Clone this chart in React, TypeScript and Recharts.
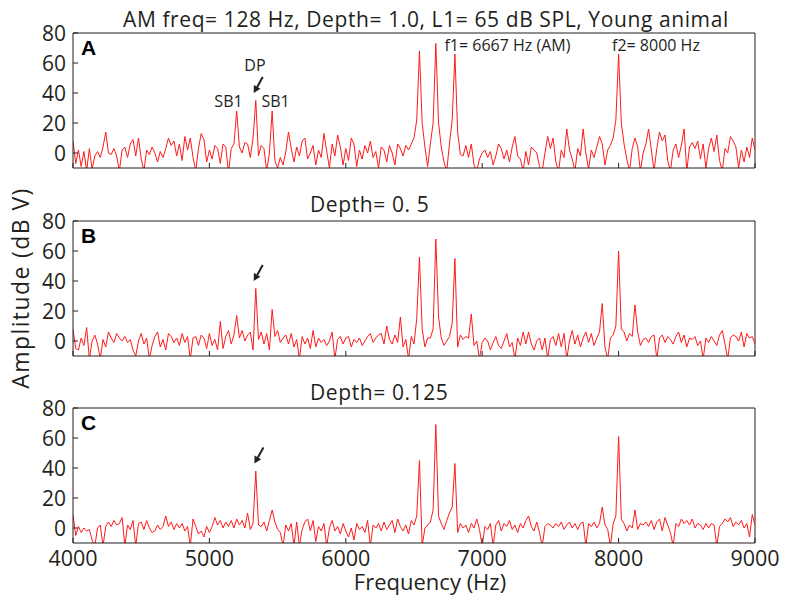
import { Line, LineChart, ReferenceDot, ReferenceLine, XAxis, YAxis } from 'recharts'
import type { ReactNode } from 'react'

// spectrum sampled every 20 Hz from 4000 to 9000 Hz (251 points per panel)
const FREQ_START = 4000
const FREQ_STEP = 20
const X_TICKS = [4000, 5000, 6000, 7000, 8000, 9000]
const Y_TICKS = [0, 20, 40, 60, 80]

// A: depth 1.0
const AMP_A = [
  8, -7, 2, -9, 1, -12, 3, -11, -2, 1, -3, 4, 14, 0, -1, 3, -2, -12, 2, 4, -3, 6, 9, -2, 10,
  -4, -12, 2, -1, 4, 0, -6, 1, -3, 3, 10, 5, 8, -2, 6, -5, 11, 2, 10, -3, -12, 3, 13, 9, -6,
  2, -4, 5, 3, -7, 6, 4, -13, 3, 6, 28, 4, 0, 7, 6, -3, 10, 35, -2, 5, 3, -12, 0, 28, -5,
  -10, -3, -8, 1, 14, 3, -6, 4, -2, 8, 10, -4, 0, 5, -8, 2, -3, 13, 1, -10, 6, -2, 12, 4, -8,
  3, -5, 10, 6, -9, 2, -4, 5, 0, 8, -3, 1, -10, 4, 2, -6, 5, 0, -8, 6, 3, -2, 5, 2, 6,
  10, 22, 68, 20, 4, -9, 6, 20, 73, 20, 4, -6, -12, 6, 22, 66, 14, -1, -2, 5, -3, 6, -8, -12, -4,
  0, 2, -3, 1, -8, -2, 6, 3, -4, 2, -6, 4, 11, -2, -4, -12, 1, -8, 4, 2, 0, -9, -12, 0, 11,
  3, 10, -6, -12, 2, -3, 16, 2, -4, -12, 3, -2, 16, 0, -11, 2, -3, 4, 11, 6, -8, 2, 5, 10, 22,
  66, 20, 6, -4, -12, 3, 10, 4, -12, 0, 6, 16, 2, -12, 3, 14, 8, 12, -5, -12, 2, 6, -3, 5, 16,
  -12, 4, 7, 3, 8, -4, 6, -10, 3, 10, 1, 12, -5, -12, 3, 0, 11, 8, 4, -10, 2, -6, 4, -3, 10,
  2,
]

// B: depth 0.5
const AMP_B = [
  8, -5, -6, 2, -3, 9, -12, 0, 4, -2, -12, 1, -4, 6, 2, -1, 5, 2, 0, 3, -1, 1, -6, -10, 0,
  5, -2, 2, -12, -3, 3, 6, -4, 1, -6, 5, 3, -1, 2, -3, 5, -1, 3, -12, 2, 3, -3, 4, 2, -5,
  5, -3, 1, -6, 13, -5, 3, 7, -2, 4, 17, 2, 7, 0, 4, 6, -6, 35, 1, 6, -2, 5, -6, 21, 3,
  7, -1, 2, 4, -2, 5, -4, 1, -12, 3, -2, 2, -5, 7, -4, 2, -1, 1, -3, 0, 6, -12, 1, 3, -2,
  2, 3, -4, 1, -1, 2, -3, 0, 3, 5, -1, 2, 4, 5, -2, 10, 1, -2, 4, -1, 16, -4, 1, -12, 3,
  -2, 15, 56, 8, -4, 2, 2, 8, 68, 16, 2, -3, 0, 3, 12, 55, -4, 4, 1, 3, 2, 18, -3, 0, -12,
  -1, 2, 0, -6, -1, 3, -3, -5, 0, 5, -4, -1, -12, 2, -3, 6, -2, 6, -2, -6, 0, 2, -6, 2, -12,
  1, 3, -3, 5, -4, 5, -12, 0, 7, -2, 4, -4, 2, 6, -1, 5, -3, 2, 6, 25, -4, -12, 2, 4, 10,
  60, 8, 6, 0, 5, 3, 24, 6, -3, 1, 2, -1, 3, 4, -12, 2, 4, -1, 3, 1, -2, 3, 6, -1, 4,
  -4, 2, 1, 3, -3, 0, -12, 2, -1, 3, 0, -3, 4, 7, -2, -12, 2, 4, 3, 0, 6, -4, 5, 2, 3,
  -2,
]

// C: depth 0.125
const AMP_C = [
  9, -5, 1, -3, 0, -2, -1, -8, -12, 0, 2, -12, 1, 4, 1, 5, 2, 3, 7, -12, 2, -1, 5, -12, 3,
  4, -1, 5, 0, -3, -2, 2, -1, 1, 8, 1, 4, -1, 3, 0, 3, -2, 1, -12, 6, 1, -4, -2, -6, 1,
  -3, 1, 7, 2, 5, 0, 4, 1, 5, 0, 6, 2, 5, 0, 10, -1, 3, 38, 2, 1, 4, -2, 5, 12, 4,
  -1, -3, -12, 2, -2, 3, -12, 4, -12, -1, 4, 6, -2, 5, -9, 1, -2, 3, -12, 0, 5, -2, 1, -4, 3,
  -2, -6, 0, -8, 3, -1, 1, -3, 5, -12, 2, 0, 3, -2, 4, -1, 2, 5, -3, 6, 1, -2, 2, -4, 5,
  2, 8, 45, -12, 0, 2, 4, 12, 69, 8, 3, -1, 5, 10, 14, 43, -3, 3, 0, 2, -3, 3, 0, 6, -1,
  -12, 1, -1, 3, -12, 2, 5, -2, 3, 1, 5, -1, 2, -3, 3, 0, 5, 8, 1, -2, 4, -3, -12, 1, 3,
  2, 0, 3, 1, 4, -1, 2, 4, 0, 3, -1, 3, 4, -12, 3, 1, 4, 0, 3, 14, 2, -1, -12, 3, 8,
  61, 6, 3, -2, 2, 0, 12, -1, 3, 2, 4, 1, 5, -1, 4, 6, -2, 7, 2, -3, -12, 3, 1, 6, 3,
  5, 2, 6, 0, 3, 2, -1, 3, 0, 3, 2, -12, 1, 3, 6, 4, 7, 1, 4, 2, 5, 0, 3, -6, 9,
  2,
]

const INK = '#231f20'
const RED = '#ff1a1a'
const FONT = '"Open Sans", "DejaVu Sans", sans-serif'

const toRows = (amps: number[]) => amps.map((v, i) => ({ f: FREQ_START + i * FREQ_STEP, v }))

function XTick(props: any) {
  const { x, y, payload, showLabels } = props
  return (
    <g>
      <line x1={x} x2={x} y1={y} y2={y - 5} stroke={INK} strokeWidth={1} />
      {showLabels && (
        <text x={x} y={y + 14} textAnchor="middle" dominantBaseline="central" fontSize={21.5} fill={INK} fontFamily={FONT}>
          {payload.value}
        </text>
      )}
    </g>
  )
}

function YTick(props: any) {
  const { x, y, payload } = props
  return (
    <g>
      <line x1={x} x2={x + 5} y1={y} y2={y} stroke={INK} strokeWidth={1} />
      <text x={x - 7} y={y} textAnchor="end" dominantBaseline="central" fontSize={21} fill={INK} fontFamily={FONT}>
        {payload.value}
      </text>
    </g>
  )
}

function Arrow(props: any) {
  const { cx, cy } = props
  const tx = cx + 9
  const ty = cy - 16
  const len = Math.hypot(cx - tx, cy - ty)
  const ux = (cx - tx) / len
  const uy = (cy - ty) / len
  const bx = cx - ux * 7
  const by = cy - uy * 7
  return (
    <g>
      <line x1={tx} y1={ty} x2={bx} y2={by} stroke={INK} strokeWidth={2} />
      <polygon
        points={`${cx},${cy} ${bx - uy * 3.8},${by + ux * 3.8} ${bx + uy * 3.8},${by - ux * 3.8}`}
        fill={INK}
      />
    </g>
  )
}

function makeNote(text: string) {
  return (props: any) => (
    <text x={props.cx} y={props.cy} textAnchor="middle" dominantBaseline="central" fontSize={16} fill={INK} fontFamily={FONT}>
      {text}
    </text>
  )
}

type PanelProps = {
  top: number
  amps: number[]
  letter: string
  showLabels?: boolean
  children?: ReactNode
}

function Panel({ top, amps, letter, showLabels = false, children }: PanelProps) {
  return (
    <div style={{ position: 'absolute', left: 0, top: top - 20 }}>
      <LineChart width={797} height={195} data={toRows(amps)} margin={{ top: 20, right: 42, bottom: 0, left: 0 }}>
        <XAxis
          dataKey="f"
          type="number"
          domain={[4000, 9000]}
          ticks={X_TICKS}
          interval={0}
          allowDataOverflow
          height={40}
          tickSize={0}
          tickMargin={0}
          tickLine={false}
          stroke={INK}
          tick={(p: any) => <XTick {...p} showLabels={showLabels} />}
        />
        <YAxis
          type="number"
          domain={[-10, 80]}
          ticks={Y_TICKS}
          interval={0}
          allowDataOverflow
          width={73}
          tickSize={0}
          tickMargin={0}
          tickLine={false}
          stroke={INK}
          tick={(p: any) => <YTick {...p} />}
        />
        <ReferenceLine y={80} stroke={INK} />
        <ReferenceLine x={9000} stroke={INK} />
        <Line type="linear" dataKey="v" stroke={RED} strokeWidth={1} dot={false} isAnimationActive={false} />
        {children}
      </LineChart>
      <div
        style={{
          position: 'absolute',
          left: 81,
          top: 24,
          fontFamily: '"Liberation Sans", Arial, sans-serif',
          fontWeight: 'bold',
          fontSize: 21,
          lineHeight: '21px',
          color: '#000',
        }}
      >
        {letter}
      </div>
    </div>
  )
}

const titleStyle = {
  position: 'absolute' as const,
  fontFamily: FONT,
  fontSize: 21,
  letterSpacing: 0.6,
  lineHeight: '24px',
  color: INK,
  whiteSpace: 'nowrap' as const,
}

export default function App() {
  return (
    <div style={{ position: 'absolute', left: 0, top: 0, width: 797, height: 605, background: '#fff', overflow: 'hidden' }}>
      <div style={{ ...titleStyle, left: 123, top: 7 }}>AM freq= 128 Hz, Depth= 1.0, L1= 65 dB SPL, Young animal</div>
      <div style={{ ...titleStyle, left: 310, top: 192 }}>Depth= 0. 5</div>
      <div style={{ ...titleStyle, left: 310, top: 380 }}>Depth= 0.125</div>

      <Panel top={33} amps={AMP_A} letter="A">
        <ReferenceDot x={5325} y={40} shape={Arrow} />
        <ReferenceDot x={5334} y={58.5} shape={makeNote('DP')} />
        <ReferenceDot x={5140} y={35} shape={makeNote('SB1')} />
        <ReferenceDot x={5485} y={35} shape={makeNote('SB1')} />
        <ReferenceDot x={7185} y={72} shape={makeNote('f1= 6667 Hz (AM)')} />
        <ReferenceDot x={8274} y={72} shape={makeNote('f2= 8000 Hz')} />
      </Panel>
      <Panel top={221} amps={AMP_B} letter="B">
        <ReferenceDot x={5325} y={40} shape={Arrow} />
      </Panel>
      <Panel top={408} amps={AMP_C} letter="C" showLabels>
        <ReferenceDot x={5330} y={43} shape={Arrow} />
      </Panel>

      <div
        style={{
          position: 'absolute',
          left: 20,
          top: 288,
          transform: 'translate(-50%, -50%) rotate(-90deg)',
          fontFamily: FONT,
          fontSize: 23,
          letterSpacing: 1.4,
          color: INK,
          whiteSpace: 'nowrap',
        }}
      >
        Amplitude (dB V)
      </div>
      <div
        style={{
          position: 'absolute',
          left: 430,
          top: 570,
          transform: 'translateX(-50%)',
          fontFamily: FONT,
          fontSize: 22,
          lineHeight: '22px',
          color: INK,
          whiteSpace: 'nowrap',
        }}
      >
        Frequency (Hz)
      </div>
    </div>
  )
}
